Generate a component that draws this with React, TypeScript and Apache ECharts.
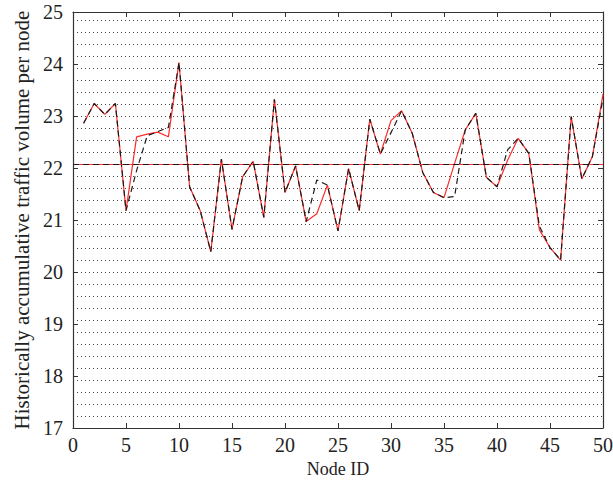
import React, { useEffect, useRef } from "react";
import * as echarts from "echarts";

const nodeIds = Array.from({ length: 50 }, (_, i) => i + 1);
const redValues = [
  22.86, 23.24, 23.03, 23.24, 21.18, 22.6, 22.65, 22.69, 22.6, 24.03,
  21.64, 21.18, 20.39, 22.17, 20.82, 21.83, 22.13, 21.05, 23.32, 21.53,
  22.04, 20.97, 21.12, 21.67, 20.79, 21.99, 21.18, 22.94, 22.27, 22.91,
  23.1, 22.67, 21.91, 21.53, 21.43, 22.09, 22.73, 23.05, 21.82, 21.64,
  22.15, 22.57, 22.28, 20.81, 20.47, 20.23, 22.99, 21.79, 22.22, 23.42,
];
const blackValues = [
  22.86, 23.24, 23.03, 23.24, 21.18, 21.95, 22.62, 22.7, 22.78, 24.03,
  21.64, 21.18, 20.39, 22.17, 20.82, 21.83, 22.13, 21.05, 23.32, 21.53,
  22.04, 20.97, 21.77, 21.67, 20.79, 21.99, 21.18, 22.94, 22.27, 22.68,
  23.1, 22.67, 21.91, 21.53, 21.43, 21.45, 22.73, 23.05, 21.82, 21.64,
  22.35, 22.57, 22.28, 20.88, 20.47, 20.23, 22.99, 21.79, 22.22, 23.34,
];
const meanValue = 22.07;
const xTicks = [0, 5, 10, 15, 20, 25, 30, 35, 40, 45, 50];
const yTicks = [17, 18, 19, 20, 21, 22, 23, 24, 25];

const FONT = "Liberation Serif";

export default function App() {
  const ref = useRef<HTMLDivElement>(null);
  useEffect(() => {
    document.body.style.margin = "0";
    const chart = echarts.init(ref.current!, undefined, { renderer: "svg" });
    const tickStyle = { show: true, inside: true, length: 5, lineStyle: { color: "#333", width: 1 } };
    const axisLine = { show: true, onZero: false, lineStyle: { color: "#333", width: 1.2 } };
    chart.setOption({
      animation: false,
      backgroundColor: "#fff",
      grid: { left: 73, right: 10, top: 12, bottom: 68, outerBoundsMode: "none", containLabel: false },
      xAxis: [
        {
          type: "value",
          min: xTicks[0],
          max: xTicks[xTicks.length - 1],
          interval: 5,
          position: "bottom",
          name: "Node ID",
          nameLocation: "middle",
          nameGap: 30,
          nameTextStyle: { fontFamily: FONT, fontSize: 18, color: "#222" },
          axisLine,
          axisTick: tickStyle,
          axisLabel: { fontFamily: FONT, fontSize: 20, color: "#222", margin: 7 },
          splitLine: { show: false },
        },
        {
          type: "value",
          min: xTicks[0],
          max: xTicks[xTicks.length - 1],
          interval: 5,
          position: "top",
          axisLine,
          axisTick: tickStyle,
          axisLabel: { show: false },
          splitLine: { show: false },
        },
      ],
      yAxis: [
        {
          type: "value",
          min: yTicks[0],
          max: yTicks[yTicks.length - 1],
          interval: 1,
          position: "left",
          name: "Historically accumulative traffic volume per node",
          nameLocation: "middle",
          nameGap: 39,
          nameTextStyle: { fontFamily: FONT, fontSize: 21, color: "#222" },
          axisLine,
          axisTick: tickStyle,
          axisLabel: { fontFamily: FONT, fontSize: 20, color: "#222", margin: 10 },
          splitLine: { show: false },
        },
        {
          type: "value",
          min: yTicks[0],
          max: yTicks[yTicks.length - 1],
          interval: 1,
          position: "right",
          axisLine,
          axisTick: tickStyle,
          axisLabel: { show: false },
          splitLine: { show: false },
        },
        {
          type: "value",
          min: -1,
          max: 33.67,
          interval: 1,
          show: true,
          position: "left",
          axisLine: { show: false, onZero: false },
          axisTick: { show: false },
          axisLabel: { show: false },
          splitLine: { show: true, lineStyle: { color: "#444", width: 1, type: [1, 3] } },
        },
      ],
      series: [
        {
          type: "line",
          data: nodeIds.map((n, i) => [n, redValues[i]]),
          showSymbol: false,
          lineStyle: { color: "#ff2a2a", width: 1.2 },
          markLine: {
            symbol: "none",
            silent: true,
            label: { show: false },
            lineStyle: { color: "#ff2a2a", width: 1.2, type: "solid" },
            data: [{ yAxis: meanValue }],
          },
        },
        {
          type: "line",
          data: nodeIds.map((n, i) => [n, blackValues[i]]),
          showSymbol: false,
          lineStyle: { color: "#1a1a1a", width: 1.2, type: [6, 4] },
          markLine: {
            symbol: "none",
            silent: true,
            label: { show: false },
            lineStyle: { color: "#1a1a1a", width: 1.2, type: [6, 4] },
            data: [{ yAxis: meanValue }],
          },
        },
      ],
    });
    return () => chart.dispose();
  }, []);
  return <div ref={ref} style={{ width: 613, height: 496 }} />;
}
